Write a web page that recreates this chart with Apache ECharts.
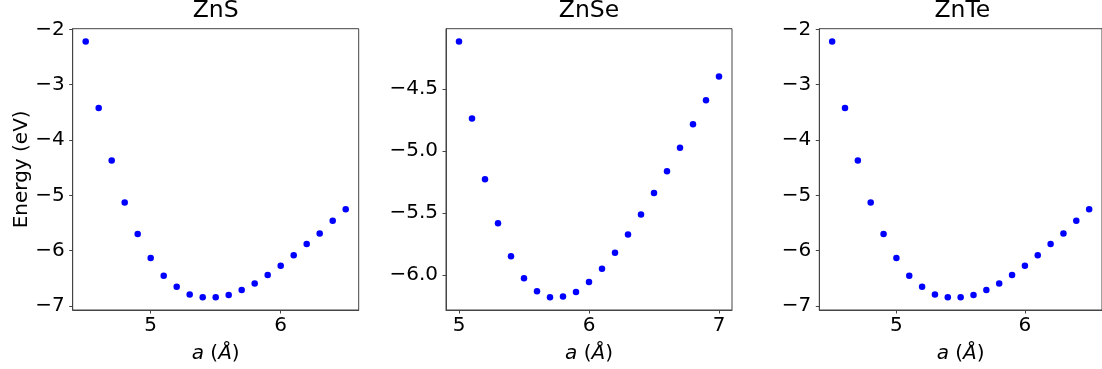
<!DOCTYPE html>
<html>
<head>
<meta charset="utf-8">
<script src="https://cdn.jsdelivr.net/npm/echarts@6/dist/echarts.min.js"></script>
<style>
html,body{margin:0;padding:0;background:#fff;}
#c{width:1102px;height:369px;}
</style>
</head>
<body>
<div id="c"></div>
<script>
// ---- data ----
const titles = ['ZnS', 'ZnSe', 'ZnTe'];
const aZnS = [4.5,4.6,4.7,4.8,4.9,5.0,5.1,5.2,5.3,5.4,5.5,5.6,5.7,5.8,5.9,6.0,6.1,6.2,6.3,6.4,6.5];
const eZnS = [-2.22,-3.42,-4.37,-5.13,-5.70,-6.13,-6.45,-6.65,-6.79,-6.84,-6.84,-6.80,-6.71,-6.59,-6.44,-6.27,-6.08,-5.88,-5.69,-5.46,-5.25];
const aZnSe = [5.0,5.1,5.2,5.3,5.4,5.5,5.6,5.7,5.8,5.9,6.0,6.1,6.2,6.3,6.4,6.5,6.6,6.7,6.8,6.9,7.0];
const eZnSe = [-4.117,-4.738,-5.226,-5.582,-5.847,-6.024,-6.129,-6.177,-6.172,-6.134,-6.054,-5.947,-5.818,-5.671,-5.510,-5.338,-5.162,-4.974,-4.784,-4.591,-4.400];
const aZnTe = [4.5,4.6,4.7,4.8,4.9,5.0,5.1,5.2,5.3,5.4,5.5,5.6,5.7,5.8,5.9,6.0,6.1,6.2,6.3,6.4,6.5];
const eZnTe = [-2.22,-3.42,-4.37,-5.13,-5.70,-6.13,-6.45,-6.65,-6.79,-6.84,-6.84,-6.80,-6.71,-6.59,-6.44,-6.27,-6.08,-5.88,-5.69,-5.46,-5.25];
const xTicksZnS = [5, 6];
const xTicksZnSe = [5, 6, 7];
const xTicksZnTe = [5, 6];
const yTicksZnS = [-7, -6, -5, -4, -3, -2];
const yTicksZnSe = [-6.0, -5.5, -5.0, -4.5];
const yTicksZnTe = [-7, -6, -5, -4, -3, -2];
const yLabel = 'Energy (eV)';

// ---- layout ----
const FONT = 'DejaVu Sans';
const grids = [
  {left: 72.7, top: 28.7, width: 286, height: 281.3},
  {left: 446, top: 28.7, width: 286, height: 281.3},
  {left: 819.3, top: 28.7, width: 286, height: 281.3}
];
const xs = [aZnS, aZnSe, aZnTe];
const ys = [eZnS, eZnSe, eZnTe];
const xt = [xTicksZnS, xTicksZnSe, xTicksZnTe];
const yt = [yTicksZnS, yTicksZnSe, yTicksZnTe];
const yDec = [0, 1, 0];

function ext(arr) {
  const mn = Math.min(...arr), mx = Math.max(...arr), m = (mx - mn) * 0.05;
  return [mn - m, mx + m];
}
const minus = s => String(s).replace('-', '\u2212');
const spine = {show: true, lineStyle: {color: '#444', width: 1}};

const option = {
  animation: false,
  backgroundColor: '#fff',
  title: titles.map((t, i) => ({
    text: t, left: grids[i].left + grids[i].width / 2, top: -1, padding: 0,
    textAlign: 'center',
    textStyle: {fontFamily: FONT, fontSize: 23.5, fontWeight: 'normal', color: '#000'}
  })),
  grid: grids.map(g => Object.assign({show: true, borderColor: '#444', borderWidth: 1, backgroundColor: 'transparent'}, g)),
  xAxis: xs.map((x, i) => {
    const [mn, mx] = ext(x);
    return {
      type: 'value', gridIndex: i, min: mn, max: mx,
      splitLine: {show: false}, axisLine: spine,
      axisTick: {show: true, length: 3.5, lineStyle: {color: '#444'}, customValues: xt[i]},
      axisLabel: {fontFamily: FONT, fontSize: 20, color: '#000', margin: 6, customValues: xt[i],
        formatter: v => minus(Math.round(v))},
      name: '{i|a} ({i|Å})', nameLocation: 'middle', nameGap: 34,
      nameTextStyle: {fontFamily: FONT, fontSize: 20, color: '#000',
        rich: {i: {fontFamily: FONT, fontSize: 20, fontStyle: 'italic', color: '#000'}}}
    };
  }),
  yAxis: ys.map((y, i) => {
    const [mn, mx] = ext(y);
    const o = {
      type: 'value', gridIndex: i, min: mn, max: mx,
      splitLine: {show: false}, axisLine: spine,
      axisTick: {show: true, length: 3.5, lineStyle: {color: '#444'}, customValues: yt[i]},
      axisLabel: {fontFamily: FONT, fontSize: 20, color: '#000', margin: 8, customValues: yt[i],
        formatter: v => minus(v.toFixed(yDec[i]))}
    };
    if (i === 0) {
      o.name = yLabel; o.nameLocation = 'middle'; o.nameGap = 39;
      o.nameTextStyle = {fontFamily: FONT, fontSize: 20, color: '#000'};
    }
    return o;
  }),
  series: xs.map((x, i) => ({
    type: 'scatter', xAxisIndex: i, yAxisIndex: i,
    symbol: 'circle', symbolSize: 6.5,
    itemStyle: {color: '#0000ff', opacity: 1},
    data: x.map((v, j) => [v, ys[i][j]])
  }))
};
echarts.init(document.getElementById('c')).setOption(option);
</script>
</body>
</html>
